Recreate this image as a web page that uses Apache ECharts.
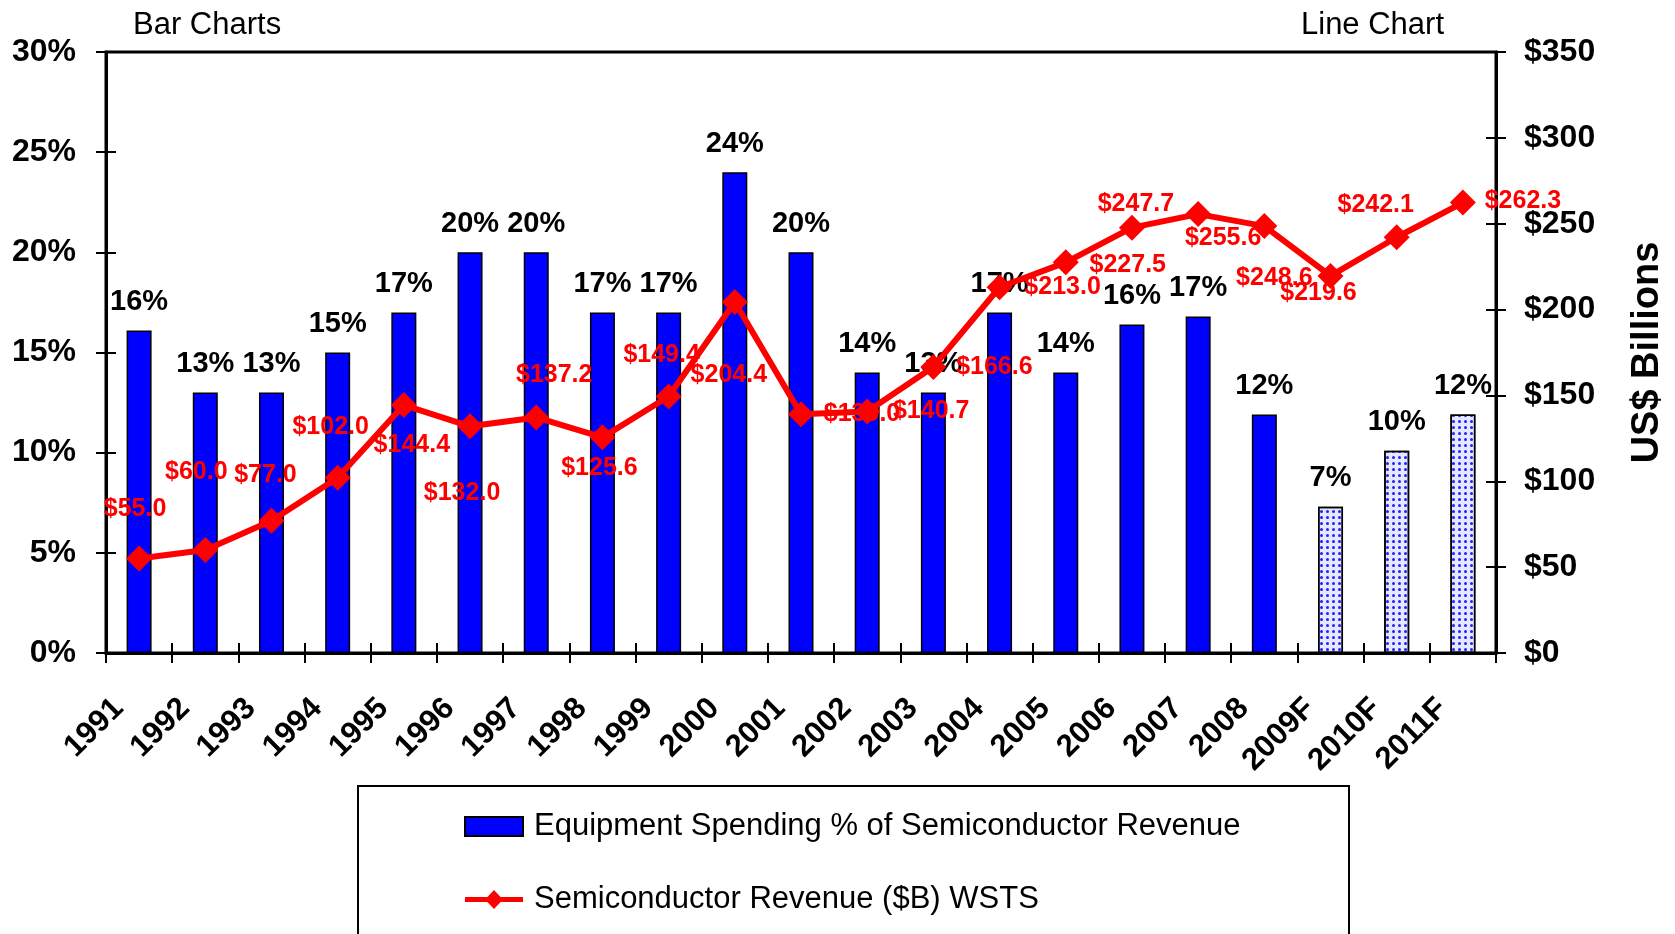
<!DOCTYPE html>
<html>
<head>
<meta charset="utf-8">
<title>Equipment Spending vs Semiconductor Revenue</title>
<script src="https://cdn.jsdelivr.net/npm/echarts@6/dist/echarts.min.js"></script>
<style>
  html, body { margin: 0; padding: 0; background: #fff; }
  #main { width: 1675px; height: 934px; }
</style>
</head>
<body>
<div id="main"></div>
<script>
// categories (F = forecast)
var years = ['1991', '1992', '1993', '1994', '1995', '1996', '1997', '1998', '1999', '2000',
  '2001', '2002', '2003', '2004', '2005', '2006', '2007', '2008', '2009F', '2010F', '2011F'];

// equipment spending as % of semiconductor revenue (bars, left axis)
var equipPct = [16.1, 13, 13, 15, 17, 20, 20, 17, 17, 24,
  20, 14, 13, 17, 14, 16.4, 16.8, 11.9, 7.3, 10.1, 11.9];

// semiconductor revenue, $B, WSTS (line, right axis)
var semiRevenue = [55.0, 60.0, 77.0, 102.0, 144.4, 132.0, 137.2, 125.6, 149.4, 204.4,
  139.0, 140.7, 166.6, 213.0, 227.5, 247.7, 255.6, 248.6, 219.6, 242.1, 262.3];

var barName = 'Equipment Spending % of Semiconductor Revenue';
var lineName = 'Semiconductor Revenue ($B) WSTS';

// where each red $ label sits, relative to its point (px)
var revLabelOffset = [[-4, -49], [-9, -78], [-6, -46], [-7, -51], [8, 40], [-8, 67], [18, -42],
  [-3, 31], [-7, -41], [-6, 73], [61, 0], [64, 0], [61, 0], [63, 0], [62, 3], [4, -24],
  [25, 24], [10, 52], [-12, 17], [-21, -32], [60, -1]];

var FONT = "'Liberation Sans', Arial, sans-serif";
var BLACK = '#000';
var RED = '#ff0000';

var chart = echarts.init(document.getElementById('main'), null, { renderer: 'canvas' });

// forecast bars get the dotted fill
var barData = equipPct.map(function (v, i) {
  if (years[i].slice(-1) === 'F') {
    return {
      value: v,
      itemStyle: {
        color: '#e6e8ff',
        decal: { symbol: 'circle', symbolSize: 1, dashArrayX: [3, 3], dashArrayY: [3, 3], color: '#2020ff' }
      }
    };
  }
  return v;
});

var lineData = semiRevenue.map(function (v, i) {
  return { value: v, label: { offset: revLabelOffset[i] } };
});

var gridBox = { left: 106, right: 179, top: 52, bottom: 281, outerBoundsMode: 'none', containLabel: false };

// tick marks: drawn twice (outside + inside) so they cross the axis
function ticks(inside) {
  return { show: true, inside: inside, length: 10, lineStyle: { color: BLACK, width: 2 } };
}

// legend icon for the line: thick band with a diamond in the middle
var lineIcon = 'path://M0,7L22.4,7L29,0L35.6,7L58,7L58,12L35.6,12L29,19L22.4,12L0,12Z';

var option = {
  animation: false,
  backgroundColor: '#fff',
  title: [
    { text: 'Bar Charts', left: 133, top: 10, padding: 0,
      textStyle: { fontFamily: FONT, fontSize: 31, fontWeight: 'normal', color: BLACK } },
    { text: 'Line Chart', left: 1301, top: 10, padding: 0,
      textStyle: { fontFamily: FONT, fontSize: 31, fontWeight: 'normal', color: BLACK } }
  ],
  graphic: [{
    type: 'rect', left: 357, top: 785, z: 0,
    shape: { width: 991, height: 170 },
    style: { fill: 'transparent', stroke: BLACK, lineWidth: 2 }
  }],
  legend: {
    orient: 'vertical', left: 464, top: 811, padding: 0, itemGap: 42,
    itemWidth: 58, itemHeight: 19, selectedMode: false,
    textStyle: { fontFamily: FONT, fontSize: 31, color: BLACK, padding: [0, 0, 0, 6] },
    data: [
      { name: barName, icon: 'rect' },
      { name: lineName, icon: lineIcon, itemStyle: { color: RED, borderWidth: 0 } }
    ]
  },
  grid: [
    Object.assign({ show: true, borderColor: BLACK, borderWidth: 3 }, gridBox),
    Object.assign({ show: false }, gridBox)
  ],
  xAxis: [
    {
      type: 'category', gridIndex: 0, data: years, boundaryGap: true,
      axisLine: { show: true, lineStyle: { color: BLACK, width: 3 } },
      axisTick: ticks(false),
      axisLabel: { interval: 0, rotate: 45, margin: 30, padding: [0, 29, 0, 0],
        fontFamily: FONT, fontSize: 31, fontWeight: 'bold', color: BLACK }
    },
    {
      // second copy only for the inward half of the ticks
      type: 'category', gridIndex: 1, data: years, boundaryGap: true,
      axisLine: { show: false }, axisTick: ticks(true), axisLabel: { show: false }
    }
  ],
  yAxis: [
    {
      type: 'value', gridIndex: 0, position: 'left', min: 0, max: 30, interval: 5,
      axisLine: { show: true, lineStyle: { color: BLACK, width: 3 } },
      axisTick: ticks(false), splitLine: { show: false },
      axisLabel: { margin: 30, formatter: '{value}%', fontFamily: FONT, fontSize: 32,
        fontWeight: 'bold', color: BLACK }
    },
    {
      type: 'value', gridIndex: 0, position: 'right', min: 0, max: 350, interval: 50,
      axisLine: { show: true, lineStyle: { color: BLACK, width: 3 } },
      axisTick: ticks(false), splitLine: { show: false },
      axisLabel: { margin: 28, formatter: function (v) { return '$' + v; }, fontFamily: FONT,
        fontSize: 32, fontWeight: 'bold', color: BLACK },
      name: 'US$ Billions', nameLocation: 'middle', nameRotate: 90, nameGap: 133,
      nameTextStyle: { fontFamily: FONT, fontSize: 38, fontWeight: 'bold', color: BLACK }
    },
    {
      type: 'value', gridIndex: 1, position: 'left', min: 0, max: 30, interval: 5,
      axisLine: { show: false }, axisTick: ticks(true), axisLabel: { show: false },
      splitLine: { show: false }
    },
    {
      type: 'value', gridIndex: 1, position: 'right', min: 0, max: 350, interval: 50,
      axisLine: { show: false }, axisTick: ticks(true), axisLabel: { show: false },
      splitLine: { show: false }
    }
  ],
  series: [
    {
      name: barName, type: 'bar', xAxisIndex: 0, yAxisIndex: 0,
      barWidth: 25, data: barData,
      itemStyle: { color: '#0000ff', borderColor: BLACK, borderWidth: 1.5 },
      label: {
        show: true, position: 'top', distance: 14,
        formatter: function (p) { return Math.round(p.value) + '%'; },
        fontFamily: FONT, fontSize: 29, fontWeight: 'bold', color: BLACK
      },
      z: 2
    },
    {
      name: lineName, type: 'line', xAxisIndex: 0, yAxisIndex: 1,
      data: lineData, symbol: 'diamond', symbolSize: 26,
      lineStyle: { color: RED, width: 6 },
      itemStyle: { color: RED },
      label: {
        show: true, position: 'inside',
        formatter: function (p) { return '$' + p.value.toFixed(1); },
        fontFamily: FONT, fontSize: 25, fontWeight: 'bold', color: RED
      },
      z: 3
    }
  ]
};

chart.setOption(option);
</script>
</body>
</html>
